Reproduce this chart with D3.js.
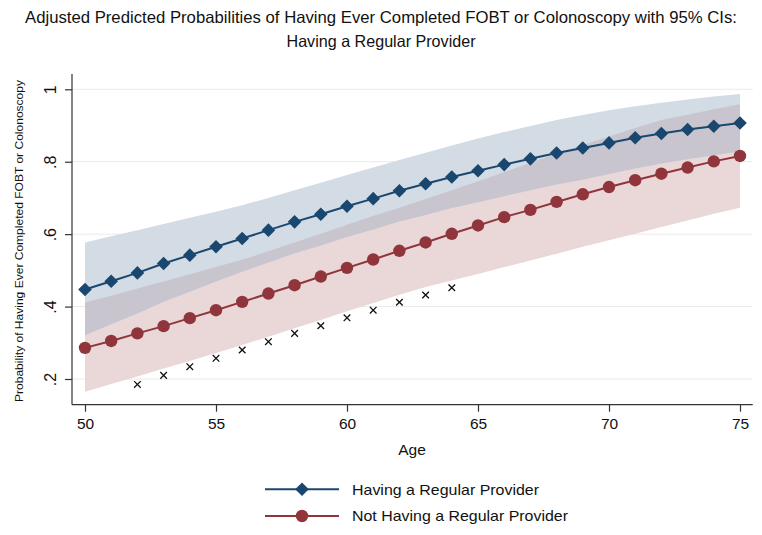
<!DOCTYPE html>
<html><head><meta charset="utf-8">
<script src="https://cdn.jsdelivr.net/npm/d3@7/dist/d3.min.js"></script>
<style>
body{margin:0;background:#fff}
svg{display:block;font-family:"Liberation Sans",Arial,Helvetica,sans-serif}
</style>
</head><body><svg id="c" width="762" height="535"></svg>
<script>
// ---------- data ----------
const ages = [50,51,52,53,54,55,56,57,58,59,60,61,62,63,64,65,66,67,68,69,70,71,72,73,74,75];
const regular   = [.447,.470,.493,.519,.542,.565,.588,.611,.634,.655,.677,.698,.720,.739,.758,.775,.792,.808,.824,.838,.852,.866,.878,.889,.898,.907];
const regularLo = [.321,.351,.381,.413,.441,.469,.496,.522,.547,.569,.592,.613,.635,.653,.672,.688,.705,.721,.737,.750,.766,.781,.795,.807,.818,.828];
const regularHi = [.577,.594,.611,.628,.645,.662,.680,.700,.721,.742,.763,.784,.805,.825,.845,.864,.882,.899,.915,.929,.942,.953,.963,.972,.980,.987];
const notRegular   = [.286,.305,.326,.346,.368,.390,.413,.436,.459,.483,.507,.530,.554,.577,.601,.624,.647,.667,.689,.710,.730,.749,.767,.784,.801,.816];
const notRegularLo = [.165,.186,.207,.229,.250,.272,.294,.317,.340,.363,.387,.410,.433,.454,.472,.490,.509,.527,.546,.565,.583,.601,.620,.638,.656,.673];
const notRegularHi = [.411,.430,.450,.469,.489,.509,.529,.553,.577,.601,.626,.650,.673,.697,.721,.746,.771,.797,.822,.846,.870,.893,.915,.930,.945,.959];
const crossAges   = [52,53,54,55,56,57,58,59,60,61,62,63,64];
const crossValues = [.185,.210,.234,.257,.280,.303,.326,.347,.369,.390,.412,.432,.452];
const xTicks = [50,55,60,65,70,75];
const yTicks = [0.2,0.4,0.6,0.8,1];
const yTickLabels = [".2",".4",".6",".8","1"];
const seriesNames = ["Having a Regular Provider","Not Having a Regular Provider"];
const titleLines = ["Adjusted Predicted Probabilities of Having Ever Completed FOBT or Colonoscopy with 95% CIs:","Having a Regular Provider"];
const xTitle = "Age";
const yTitle = "Probability of Having Ever Completed FOBT or Colonoscopy";

// ---------- styles ----------
const navy = "#1a476f", maroon = "#90353b";
const blueBand = "#d3dbe4", redBand = "#ead7d8", overlapBand = "#c8c5ce";
const svg = d3.select("#c");
const plotL = 72, plotR = 752.7, plotT = 74, plotB = 404.7;
const x = d3.scaleLinear().domain([50,75]).range([85,740]);
const y = d3.scaleLinear().domain([0.2,1]).range([379,89.3]);

// gridlines
svg.append("g").selectAll("line").data(yTicks).join("line")
  .attr("x1",plotL).attr("x2",plotR).attr("y1",d=>y(d)).attr("y2",d=>y(d))
  .attr("stroke","#eaeaea").attr("stroke-width",1);

// CI bands
const area = (lo,hi)=>d3.area().x((d,i)=>x(ages[i])).y0((d,i)=>y(lo[i])).y1((d,i)=>y(hi[i]));
svg.append("path").datum(ages).attr("d",area(notRegularLo,notRegularHi)).attr("fill",redBand);
svg.append("path").datum(ages).attr("d",area(regularLo,regularHi)).attr("fill",blueBand);
// overlap of the two bands
const ovLo = ages.map((a,i)=>Math.max(regularLo[i],notRegularLo[i]));
const ovHi = ages.map((a,i)=>Math.min(regularHi[i],notRegularHi[i]));
svg.append("path").datum(ages).attr("d",area(ovLo,ovHi)).attr("fill",overlapBand);

// cross markers
const cg = svg.append("g").attr("stroke","#111").attr("stroke-width",1.3);
crossAges.forEach((a,i)=>{
  const cx=x(a), cy=y(crossValues[i]), s=3.3;
  cg.append("path").attr("d",`M${cx-s},${cy-s}L${cx+s},${cy+s}M${cx-s},${cy+s}L${cx+s},${cy-s}`);
});

// lines + markers
const diamond = r=>`M0,${-r}L${r},0L0,${r}L${-r},0Z`;
function series(vals,color,shape){
  const line = d3.line().x((d,i)=>x(ages[i])).y(d=>y(d));
  svg.append("path").datum(vals).attr("d",line).attr("fill","none").attr("stroke",color).attr("stroke-width",2);
  const g = svg.append("g");
  vals.forEach((v,i)=>{
    if(shape==="diamond") g.append("path").attr("d",diamond(6.8)).attr("transform",`translate(${x(ages[i])},${y(v)})`).attr("fill",color);
    else g.append("circle").attr("cx",x(ages[i])).attr("cy",y(v)).attr("r",6.2).attr("fill",color);
  });
}
series(regular,navy,"diamond");
series(notRegular,maroon,"circle");

// axes lines
svg.append("line").attr("x1",plotL).attr("x2",plotL).attr("y1",plotT).attr("y2",plotB).attr("stroke","#333").attr("stroke-width",1.2);
svg.append("line").attr("x1",plotL).attr("x2",plotR).attr("y1",plotB).attr("y2",plotB).attr("stroke","#333").attr("stroke-width",1.2);

// x axis
const xa = svg.append("g").attr("transform",`translate(0,${plotB})`)
  .call(d3.axisBottom(x).tickValues(xTicks).tickSize(7).tickPadding(6).tickFormat(d3.format("d")));
xa.select(".domain").remove();
xa.selectAll(".tick line").attr("stroke","#333").attr("stroke-width",1.2);
xa.selectAll(".tick text").attr("font-size",15.5).attr("fill","#111").attr("font-family",null);

// y axis
const ya = svg.append("g").attr("transform",`translate(${plotL},0)`)
  .call(d3.axisLeft(y).tickValues(yTicks).tickSize(7).tickFormat((d,i)=>yTickLabels[i]));
ya.select(".domain").remove();
ya.selectAll(".tick line").attr("stroke","#333").attr("stroke-width",1.2);
ya.selectAll(".tick text").attr("font-size",16).attr("fill","#111").attr("font-family",null)
  .attr("transform","rotate(-90)").attr("x",0).attr("y",-16).attr("dy",0).attr("text-anchor","middle");

// titles
svg.append("text").attr("x",412).attr("y",455).attr("text-anchor","middle").attr("font-size",15.5).attr("fill","#111").text(xTitle);
svg.append("text").attr("transform","translate(23,241) rotate(-90)").attr("text-anchor","middle")
  .attr("font-size",11.5).attr("fill","#111").attr("textLength",322).attr("lengthAdjust","spacingAndGlyphs").text(yTitle);
svg.append("text").attr("x",381).attr("y",23).attr("text-anchor","middle").attr("font-size",16.5).attr("fill","#111")
  .attr("textLength",712).attr("lengthAdjust","spacingAndGlyphs").text(titleLines[0]);
svg.append("text").attr("x",381).attr("y",47).attr("text-anchor","middle").attr("font-size",16.5).attr("fill","#111")
  .attr("textLength",189).attr("lengthAdjust","spacingAndGlyphs").text(titleLines[1]);

// legend
const legY = [489.3,516];
const legW = [187,216];
[[navy,"diamond"],[maroon,"circle"]].forEach(([c,s],i)=>{
  const g = svg.append("g").attr("transform",`translate(0,${legY[i]})`);
  g.append("line").attr("x1",265).attr("x2",339).attr("stroke",c).attr("stroke-width",2);
  if(s==="diamond") g.append("path").attr("d",diamond(6.8)).attr("transform","translate(302,0)").attr("fill",c);
  else g.append("circle").attr("cx",302).attr("r",6.2).attr("fill",c);
  g.append("text").attr("x",352).attr("dy","0.36em").attr("font-size",15).attr("fill","#111")
    .attr("textLength",legW[i]).attr("lengthAdjust","spacingAndGlyphs").text(seriesNames[i]);
});
</script>
</body></html>
